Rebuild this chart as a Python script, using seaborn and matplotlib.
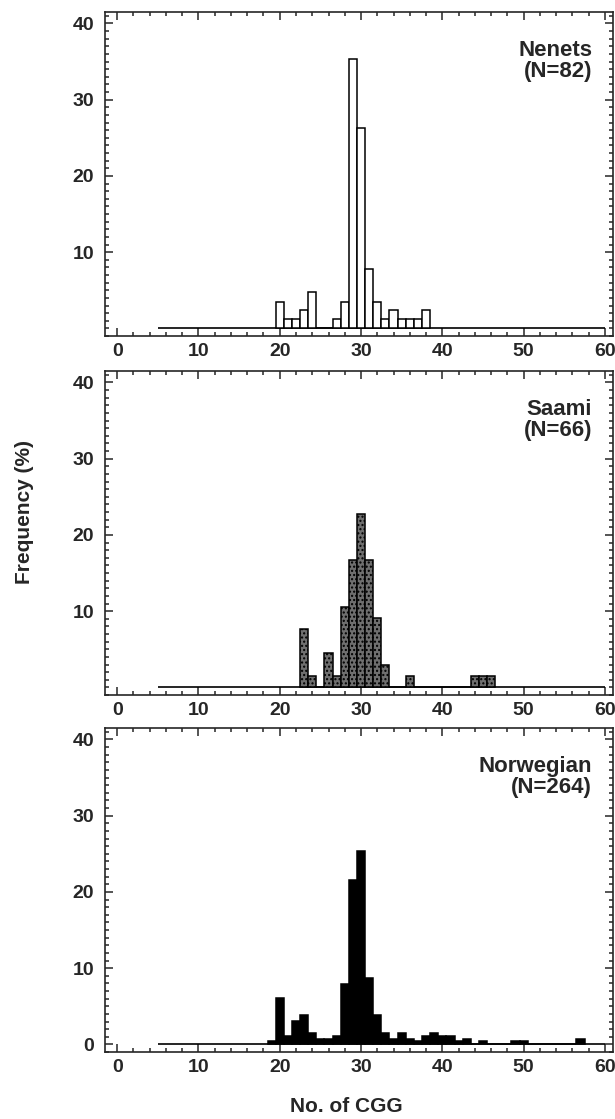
import matplotlib
matplotlib.use("Agg")
from matplotlib import pyplot as plt
from matplotlib.ticker import MultipleLocator
import seaborn as sns

# CGG repeat number -> frequency (%)
nenets_cgg = [20, 21, 22, 23, 24, 27, 28, 29, 30, 31, 32, 33, 34, 35, 36, 37, 38]
nenets_freq = [3.5, 1.2, 1.2, 2.4, 4.8, 1.2, 3.5, 35.4, 26.3, 7.8, 3.5, 1.2, 2.4, 1.2, 1.2, 1.2, 2.4]

saami_cgg = [23, 24, 26, 27, 28, 29, 30, 31, 32, 33, 36, 44, 45, 46]
saami_freq = [7.6, 1.5, 4.5, 1.5, 10.6, 16.7, 22.7, 16.7, 9.1, 3.0, 1.5, 1.5, 1.5, 1.5]

norw_cgg = [19, 20, 21, 22, 23, 24, 25, 26, 27, 28, 29, 30, 31, 32, 33, 34, 35, 36,
            37, 38, 39, 40, 41, 42, 43, 45, 49, 50, 57]
norw_freq = [0.38, 6.06, 1.14, 3.03, 3.79, 1.52, 0.76, 0.76, 1.14, 7.95, 21.6, 25.4, 8.7,
             3.79, 1.52, 0.76, 1.52, 0.76, 0.38, 1.14, 1.52, 1.14, 1.14, 0.38, 0.76,
             0.38, 0.38, 0.38, 0.76]

panel_labels = ['Nenets\n(N=82)', 'Saami\n(N=66)', 'Norwegian\n(N=264)']
baseline_x = [5, 60]
x_ticks = [0, 10, 20, 30, 40, 50, 60]

sns.set_style('ticks')
plt.rcParams['font.family'] = ['Liberation Sans', 'DejaVu Sans']
plt.rcParams['font.weight'] = 'bold'

fig = plt.figure(figsize=(6.15, 11.19), dpi=100)
W, H = 615, 1119
left, right = 105, 613
panel_h = 324
bottoms = [336, 695, 1052]

panels = [
    (nenets_cgg, nenets_freq, dict(color='white'), [10, 20, 30, 40]),
    (saami_cgg, saami_freq, dict(color='#6f6f6f', hatch='....'), [10, 20, 30, 40]),
    (norw_cgg, norw_freq, dict(color='black'), [0, 10, 20, 30, 40]),
]

for i, (cgg, freq, style, yt) in enumerate(panels):
    ax = fig.add_axes([left / W, (H - bottoms[i]) / H, (right - left) / W, panel_h / H])
    ax.hlines(0, baseline_x[0], baseline_x[1], color='black', lw=1.2, zorder=1)
    sns.histplot(x=cgg, weights=freq, discrete=True, ax=ax, alpha=1,
                 edgecolor='black', linewidth=1.1, zorder=2, **style)
    ax.set_xlim(-1.5, 61)
    ax.set_ylim(-1, 41.5)
    ax.set_xticks(x_ticks)
    ax.set_yticks(yt)
    ax.xaxis.set_minor_locator(MultipleLocator(2))
    ax.yaxis.set_minor_locator(MultipleLocator(1))
    ax.tick_params(which='both', direction='in', top=True, right=True,
                   labelsize=14, width=1.1)
    ax.tick_params(which='major', length=6)
    ax.tick_params(which='minor', length=3)
    ax.tick_params(axis='y', pad=8)
    ax.tick_params(axis='x', pad=5)
    for lab in ax.get_xticklabels() + ax.get_yticklabels():
        lab.set_fontweight('bold')
    for sp in ax.spines.values():
        sp.set_linewidth(1.2)
    ax.set_xlabel('')
    ax.set_ylabel('')
    ax.text(0.959, 0.915, panel_labels[i], transform=ax.transAxes, ha='right',
            va='top', fontsize=16, fontweight='bold', linespacing=1.05)

fig.text(24 / W, 1 - 512 / H, 'Frequency (%)', rotation=90, ha='center', va='center',
         fontsize=15, fontweight='bold')
fig.text(346 / W, 1 - 1106 / H, 'No. of CGG', ha='center', va='center',
         fontsize=15, fontweight='bold')

fig.savefig('out.png', dpi=100)
